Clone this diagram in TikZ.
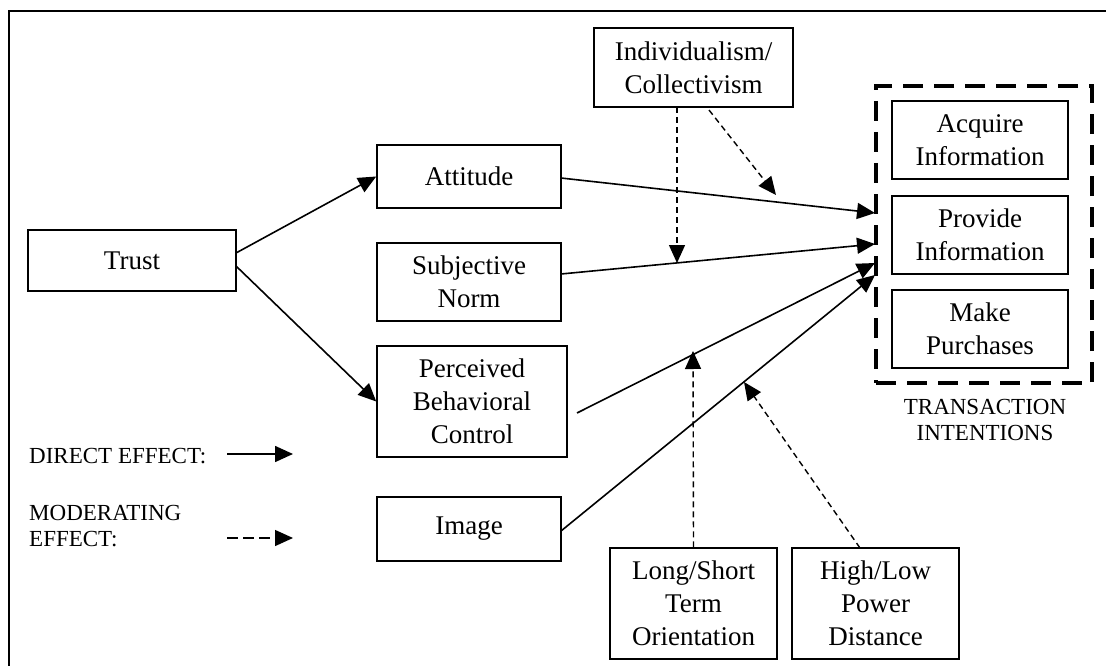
\documentclass[tikz,border=0pt]{standalone}
\usepackage{fontspec}
\setmainfont{Liberation Serif}
\usetikzlibrary{arrows.meta,calc}
\begin{document}
\begin{tikzpicture}[x=1pt,y=-1pt,
  box/.style={draw,line width=1.5pt,inner sep=0pt,align=center,font=\fontsize{27}{33}\selectfont},
  tip/.style={-{Triangle[length=18pt,width=16pt]}},
  direct/.style={line width=1.6pt,tip},
  moder/.style={line width=1.4pt,dash pattern=on 6pt off 4pt,tip},
  legmoder/.style={line width=1.4pt,dash pattern=on 11pt off 5pt,tip},
  lbl/.style={inner sep=0pt,font=\fontsize{23}{26}\selectfont}]
\useasboundingbox (0,0) rectangle (1106,666);
% frame
\draw[line width=1.6pt] (9,666) -- (9,11) -- (1106,11);
% nodes
\node[box,minimum width=208pt,minimum height=61pt] (trust) at (132,260.5) {Trust};
\node[box,minimum width=184pt,minimum height=63pt] (att) at (469,176.5) {Attitude};
\node[box,minimum width=184pt,minimum height=78pt] (sn) at (469,282) {Subjective\\Norm};
\node[box,minimum width=190pt,minimum height=111pt] (pbc) at (472,401.5) {Perceived\\Behavioral\\Control};
\node[box,minimum width=184pt,minimum height=64pt] (img) at (469,529) {Image};
\node[box,minimum width=199pt,minimum height=79pt] (ind) at (693.5,67.5) {Individualism/\\Collectivism};
\node[draw,line width=3.2pt,dash pattern=on 20pt off 11pt,minimum width=216pt,minimum height=297pt] (ti) at (984,234.5) {};
\node[box,minimum width=176pt,minimum height=78pt] (acq) at (980,140) {Acquire\\Information};
\node[box,minimum width=176pt,minimum height=78pt] (prov) at (980,235) {Provide\\Information};
\node[box,minimum width=176pt,minimum height=78pt] (make) at (980,329) {Make\\Purchases};
\node[lbl,align=center] (tilbl) at (985,420) {TRANSACTION\\INTENTIONS};
\node[box,minimum width=167pt,minimum height=111pt] (lso) at (693.5,603.5) {Long/Short\\Term\\Orientation};
\node[box,minimum width=167pt,minimum height=111pt] (hlp) at (875.5,603.5) {High/Low\\Power\\Distance};
% legend
\node[lbl,anchor=west] (ldir) at (29,456) {DIRECT EFFECT:};
\node[lbl,anchor=west,align=left] (lmod) at (29,526) {MODERATING\\EFFECT:};
\coordinate (ld1) at (227,454);
\coordinate (ld2) at (293,454);
\coordinate (lm1) at (227,538);
\coordinate (lm2) at (293,538);
\draw[direct] (ld1) -- (ld2);
\draw[legmoder] (lm1) -- (lm2);
% connector end points
\coordinate (trA) at (236,253);
\coordinate (trB) at (236,266);
\coordinate (attO) at (561,178);
\coordinate (snO) at (561,274);
\coordinate (pbcO) at (577,413);
\coordinate (imgO) at (561,531);
\coordinate (tiA) at (875,213);
\coordinate (tiB) at (875,244);
\coordinate (tiC) at (875,263);
\coordinate (tiD) at (875,275);
% direct effects
\draw[direct] (trA) -- (att.west);
\draw[direct] (trB) -- (pbc.west);
\draw[direct] (attO) -- (tiA);
\draw[direct] (snO) -- (tiB);
\draw[direct] (pbcO) -- (tiC);
\draw[direct] (imgO) -- (tiD);
% moderating effects
\coordinate (indA) at (677,107);
\coordinate (indB) at (709,110);
\coordinate (mSN) at (677,263);
\coordinate (mAtt) at (776,195);
\coordinate (mPBC) at (693,351);
\coordinate (mImg) at (744,382);
\coordinate (hlpT) at (860,548);
\draw[moder] (indA) -- (mSN);
\draw[moder] (indB) -- (mAtt);
\draw[moder] (lso.north) -- (mPBC);
\draw[moder] (hlpT) -- (mImg);
\end{tikzpicture}
\end{document}
